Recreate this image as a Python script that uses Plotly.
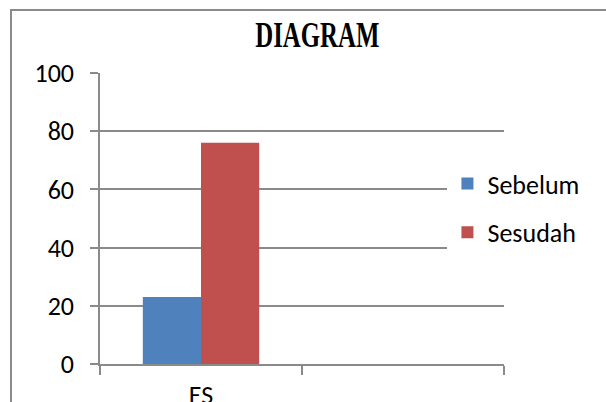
import plotly.graph_objects as go

# Category axis: one labelled group plus an empty slot, as in the worksheet
categories = ["ES", " "]
series_names = ["Sebelum", "Sesudah"]
sebelum = [23, None]
sesudah = [76, None]
y_ticks = [0, 20, 40, 60, 80, 100]

colors = {"Sebelum": "#4F81BD", "Sesudah": "#C0504D"}
grey = "#8A8A8A"
label_font = dict(family="Carlito, Lato, sans-serif", size=26, color="#000000")

fig = go.Figure()
for name, vals in zip(series_names, [sebelum, sesudah]):
    fig.add_trace(go.Bar(
        x=categories, y=vals, name=name,
        marker=dict(color=colors[name], line=dict(width=0)),
        legendgroup=name,
    ))

fig.update_layout(
    width=606, height=402,
    margin=dict(l=100, r=102, t=73, b=38, autoexpand=False),
    paper_bgcolor="white", plot_bgcolor="white",
    barmode="group", bargap=0.424, bargroupgap=0,
    title=dict(
        text="DIAGRAM",
        font=dict(family="Liberation Serif, serif", size=36, color="#000000", weight="bold"),
        x=0.538, xref="paper", xanchor="center",
        y=1 - 34 / 402, yref="container", yanchor="middle",
    ),
    showlegend=True,
    legend=dict(
        x=0.86, xanchor="left",
        y=0.536, yanchor="middle",
        font=label_font,
        bgcolor="white",
        tracegroupgap=12,
        itemsizing="constant",
    ),
    xaxis=dict(
        type="category", range=[-0.5, 1.5], automargin=False,
        showline=True, linecolor=grey, linewidth=1.5,
        ticks="outside", tickson="boundaries", ticklen=9,
        tickcolor=grey, tickwidth=1.5,
        showgrid=False, tickfont=label_font,
        ticklabelstandoff=7,
    ),
    yaxis=dict(
        range=[0, 100], tickvals=y_ticks, automargin=False,
        showline=True, linecolor=grey, linewidth=1.5,
        ticks="outside", ticklen=8, tickcolor=grey, tickwidth=1.5,
        showgrid=True, gridcolor=grey, gridwidth=1.5,
        zeroline=False, tickfont=label_font,
        ticklabelstandoff=11,
    ),
    shapes=[dict(
        type="rect", xref="paper", yref="paper",
        x0=(11 - 100) / 404, x1=1.6,
        y0=-0.6, y1=(364 - 10) / 291,
        line=dict(color=grey, width=2), fillcolor="rgba(0,0,0,0)",
        layer="below",
    )],
)

# Narrow the bold serif title to a condensed face
post = """
var gd = document.getElementById('{plot_id}');
var t = gd.querySelector('.gtitle');
if (t) {
  var b = t.getBBox();
  var cx = b.x + b.width / 2;
  t.setAttribute('transform', 'translate(' + cx + ',0) scale(0.69,1) translate(' + (-cx) + ',0)');
}
"""

fig.write_html("out.html", post_script=post)
